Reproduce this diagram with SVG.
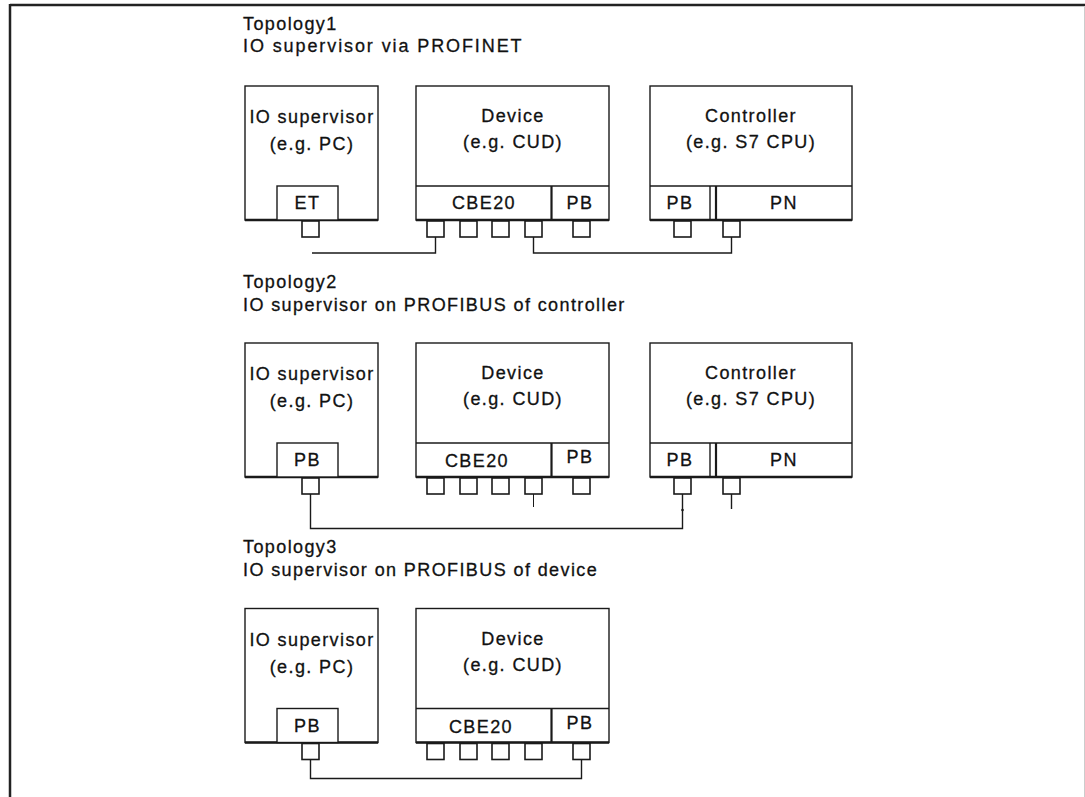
<svg xmlns="http://www.w3.org/2000/svg" width="1085" height="797" viewBox="0 0 1085 797">
<style>
text{font-family:"Liberation Sans",Arial,sans-serif;font-size:18px;letter-spacing:1.4px;fill:#111;stroke:#111;stroke-width:0.3}
.c{text-anchor:middle}
.box{fill:#fff;stroke:#1a1a1a;stroke-width:1.4}
.bot{stroke:#1a1a1a;stroke-width:2.6;fill:none}
.ln{stroke:#1a1a1a;stroke-width:1.4;fill:none}
.port{fill:#fff;stroke:#1a1a1a;stroke-width:1.6}
.wire{stroke:#1a1a1a;stroke-width:1.4;fill:none}
</style>
<defs>
<g id="sup">
<rect class="box" x="245" y="86" width="133" height="134"/>
<line class="bot" x1="245" y1="220" x2="378" y2="220"/>
<text class="c" x="312" y="123">IO supervisor</text>
<text class="c" x="312" y="150">(e.g. PC)</text>
<rect class="box" x="277" y="186" width="61" height="34"/>
<rect class="port" x="302" y="221" width="17" height="16"/>
</g>
<g id="dev">
<rect class="box" x="416" y="86" width="193" height="134"/>
<line class="ln" x1="416" y1="186" x2="609" y2="186"/>
<line class="ln" x1="551.5" y1="186" x2="551.5" y2="220" style="stroke-width:2.2"/>
<line class="bot" x1="416" y1="220" x2="609" y2="220"/>
<text class="c" x="513" y="122">Device</text>
<text class="c" x="513" y="148">(e.g. CUD)</text>
<rect class="port" x="427" y="221" width="17" height="16"/>
<rect class="port" x="460" y="221" width="17" height="16"/>
<rect class="port" x="492" y="221" width="17" height="16"/>
<rect class="port" x="525" y="221" width="17" height="16"/>
<rect class="port" x="573" y="221" width="17" height="16"/>
</g>
<g id="ctl">
<rect class="box" x="650" y="86" width="202" height="134"/>
<line class="ln" x1="650" y1="186" x2="852" y2="186"/>
<line class="ln" x1="710" y1="186" x2="710" y2="220"/>
<line class="ln" x1="716" y1="186" x2="716" y2="220" style="stroke-width:2.2"/>
<line class="bot" x1="650" y1="220" x2="852" y2="220"/>
<text class="c" x="751" y="122">Controller</text>
<text class="c" x="751" y="148">(e.g. S7 CPU)</text>
<text class="c" x="680" y="209">PB</text>
<text class="c" x="784" y="209">PN</text>
<rect class="port" x="674" y="221" width="17" height="16"/>
<rect class="port" x="723" y="221" width="17" height="16"/>
</g>
</defs>

<g id="frame">
<line x1="10" y1="5" x2="1085" y2="5" stroke="#222" stroke-width="2.5"/>
<line x1="10" y1="4" x2="10" y2="797" stroke="#222" stroke-width="2.5"/>
<line x1="1084.5" y1="6" x2="1084.5" y2="797" stroke="#ccc" stroke-width="1"/>
</g>

<g id="topology1">
<text x="243" y="30">Topology1</text>
<text x="243" y="52" style="letter-spacing:1.9px">IO supervisor via PROFINET</text>
<g id="t1-supervisor"><use href="#sup"/><text class="c" x="307.5" y="209">ET</text></g>
<g id="t1-device"><use href="#dev"/><text class="c" x="484" y="209">CBE20</text><text class="c" x="580" y="209">PB</text></g>
<g id="t1-controller"><use href="#ctl"/></g>
</g>

<g id="topology2">
<text x="243" y="288">Topology2</text>
<text x="243" y="311">IO supervisor on PROFIBUS of controller</text>
<g id="t2-supervisor" transform="translate(0,257)"><use href="#sup"/><text class="c" x="307.5" y="209">PB</text></g>
<g id="t2-device" transform="translate(0,257)"><use href="#dev"/><text class="c" x="477" y="210">CBE20</text><text class="c" x="580" y="206">PB</text></g>
<g id="t2-controller" transform="translate(0,257)"><use href="#ctl"/></g>
</g>

<g id="topology3">
<text x="243" y="553">Topology3</text>
<text x="243" y="576">IO supervisor on PROFIBUS of device</text>
<g id="t3-supervisor" transform="translate(0,522.5)"><use href="#sup"/><text class="c" x="307.5" y="209">PB</text></g>
<g id="t3-device" transform="translate(0,522.5)"><use href="#dev"/><text class="c" x="481" y="210">CBE20</text><text class="c" x="580" y="206">PB</text></g>
</g>

<g id="connectors">
<path class="wire" d="M312 253 H435.5 V237"/>
<path class="wire" d="M533.5 237 V253 H731.5 V237"/>
<path class="wire" d="M310.5 494 V528.5 H682.5 V494"/>
<circle cx="682.5" cy="510" r="1.3" fill="#1a1a1a"/>
<path class="wire" d="M533.5 494 V507" style="stroke-width:1"/>
<path class="wire" d="M731.5 494 V509"/>
<path class="wire" d="M310.5 759 V778.5 H581.5 V759"/>
</g>
</svg>
